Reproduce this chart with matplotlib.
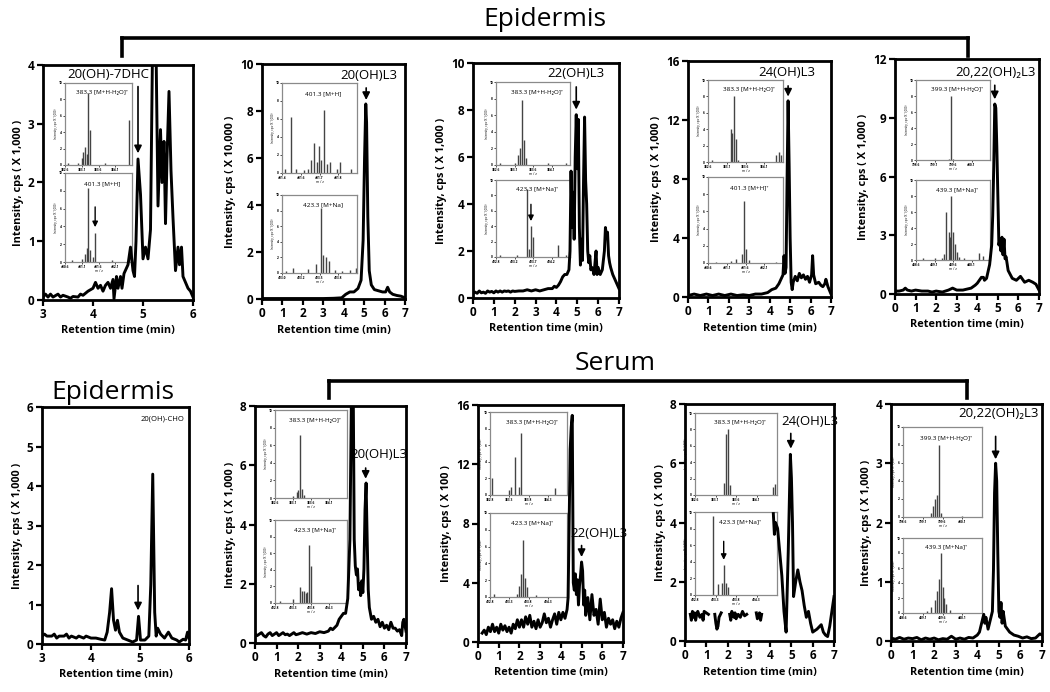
import numpy as np
import matplotlib.pyplot as plt
from matplotlib.lines import Line2D

plt.rcParams.update({
    "font.family": ["Open Sans", "DejaVu Sans"],
    "font.weight": "bold",
    "axes.linewidth": 2.0,
    "xtick.major.width": 1.6,
    "ytick.major.width": 1.6,
    "xtick.major.size": 4,
    "ytick.major.size": 4,
})

# ------------------------------------------------------------
# chromatograms: (retention time [min], intensity)
# ------------------------------------------------------------
epi_7dhc = [(3.0, 0.05), (3.05, 0.1), (3.1, 0.05), (3.15, 0.1), (3.2, 0.05), (3.3, 0.1), (3.35, 0.05),
            (3.4, 0.08), (3.5, 0.05), (3.55, 0.03), (3.6, 0.06), (3.7, 0.05), (3.75, 0.1), (3.8, 0.08),
            (3.9, 0.15), (4.0, 0.2), (4.05, 0.3), (4.1, 0.2), (4.15, 0.25), (4.2, 0.15), (4.25, 0.25),
            (4.3, 0.3), (4.35, 0.2), (4.4, 0.35), (4.42, 0.02), (4.47, 0.4), (4.5, 0.2), (4.55, 0.4),
            (4.58, 0.2), (4.62, 0.45), (4.7, 0.6), (4.75, 0.9), (4.8, 0.5), (4.83, 0.4), (4.86, 1.0),
            (4.9, 2.4), (4.95, 1.8), (5.0, 0.7), (5.05, 0.9), (5.1, 0.7), (5.15, 1.2), (5.2, 5.0),
            (5.25, 5.0), (5.3, 1.6), (5.35, 2.9), (5.38, 2.0), (5.42, 2.7), (5.45, 1.3), (5.48, 2.4),
            (5.52, 3.55), (5.56, 2.2), (5.6, 1.4), (5.65, 0.5), (5.7, 0.9), (5.73, 0.6), (5.77, 0.9),
            (5.8, 0.4), (5.85, 0.3), (5.9, 0.2), (5.95, 0.15), (6.0, 0.05)]

epi_20oh = [(0.0, 0.02), (0.5, 0.02), (1.0, 0.02), (1.5, 0.02), (2.0, 0.02), (2.5, 0.02), (3.0, 0.02),
            (3.5, 0.03), (3.9, 0.05), (4.1, 0.2), (4.3, 0.3), (4.5, 0.3), (4.7, 0.45), (4.85, 0.8),
            (4.95, 2.5), (5.02, 6.0), (5.08, 8.3), (5.12, 7.5), (5.18, 3.5), (5.25, 1.2), (5.35, 0.6),
            (5.5, 0.4), (5.7, 0.35), (5.9, 0.3), (6.05, 0.3), (6.15, 0.5), (6.25, 0.3), (6.4, 0.2),
            (6.6, 0.15), (6.8, 0.12), (7.0, 0.05)]

epi_22oh = [(0.0, 0.2), (0.1, 0.25), (0.2, 0.2), (0.3, 0.3), (0.4, 0.22), (0.5, 0.25), (0.6, 0.2),
            (0.7, 0.3), (0.8, 0.25), (0.9, 0.28), (1.0, 0.22), (1.1, 0.3), (1.2, 0.25), (1.3, 0.3),
            (1.4, 0.25), (1.5, 0.3), (1.6, 0.28), (1.7, 0.3), (1.8, 0.25), (1.9, 0.3), (2.0, 0.28),
            (2.2, 0.3), (2.4, 0.3), (2.6, 0.35), (2.8, 0.3), (3.0, 0.35), (3.2, 0.3), (3.4, 0.35),
            (3.6, 0.4), (3.8, 0.4), (3.9, 0.5), (4.0, 0.45), (4.1, 0.55), (4.2, 0.7), (4.3, 0.9),
            (4.4, 1.0), (4.5, 1.0), (4.6, 1.2), (4.65, 2.0), (4.7, 5.4), (4.75, 3.0), (4.8, 4.5),
            (4.85, 2.5), (4.9, 6.0), (4.95, 7.8), (5.0, 5.5), (5.05, 7.6), (5.1, 3.0), (5.15, 1.4),
            (5.2, 2.5), (5.25, 1.6), (5.3, 5.0), (5.35, 7.7), (5.4, 5.0), (5.45, 4.0), (5.5, 2.0),
            (5.55, 1.5), (5.6, 1.8), (5.65, 1.2), (5.7, 1.3), (5.75, 1.2), (5.8, 1.0), (5.85, 1.5),
            (5.9, 2.0), (5.95, 1.0), (6.0, 1.3), (6.1, 1.0), (6.2, 1.2), (6.3, 2.0), (6.35, 3.0),
            (6.4, 2.6), (6.45, 2.8), (6.5, 1.8), (6.55, 1.5), (6.6, 1.3), (6.7, 1.0), (6.8, 0.8),
            (6.9, 0.6), (7.0, 0.4)]

epi_24oh = [(0.0, 0.1), (0.3, 0.2), (0.6, 0.1), (0.9, 0.2), (1.2, 0.1), (1.5, 0.2), (1.8, 0.1),
            (2.1, 0.2), (2.4, 0.1), (2.7, 0.15), (3.0, 0.1), (3.3, 0.2), (3.6, 0.2), (3.9, 0.3),
            (4.1, 0.5), (4.3, 0.6), (4.45, 0.9), (4.55, 1.2), (4.65, 1.5), (4.7, 2.8), (4.75, 1.6),
            (4.8, 2.0), (4.85, 8.0), (4.9, 13.3), (4.95, 9.0), (5.0, 4.0), (5.05, 1.0), (5.1, 0.5),
            (5.15, 1.0), (5.25, 1.4), (5.35, 1.1), (5.45, 1.6), (5.55, 1.3), (5.65, 1.5), (5.75, 1.2),
            (5.85, 1.4), (5.95, 1.0), (6.05, 1.5), (6.1, 2.8), (6.15, 1.5), (6.25, 0.9), (6.4, 1.0),
            (6.5, 0.8), (6.6, 0.7), (6.7, 0.9), (6.75, 1.2), (6.85, 0.7), (7.0, 0.2)]

epi_2022oh = [(0.0, 0.15), (0.2, 0.15), (0.4, 0.2), (0.5, 0.3), (0.6, 0.2), (0.8, 0.15), (1.0, 0.2),
              (1.3, 0.15), (1.6, 0.15), (1.8, 0.1), (2.0, 0.15), (2.3, 0.1), (2.6, 0.2), (2.8, 0.3),
              (3.0, 0.2), (3.3, 0.2), (3.5, 0.25), (3.7, 0.3), (3.9, 0.45), (4.0, 0.55), (4.1, 0.7),
              (4.2, 0.85), (4.3, 0.85), (4.35, 0.7), (4.45, 0.8), (4.6, 1.5), (4.7, 2.5), (4.75, 4.0),
              (4.8, 6.5), (4.85, 9.7), (4.9, 9.5), (4.95, 7.5), (5.0, 5.0), (5.05, 2.5), (5.1, 2.8),
              (5.15, 2.2), (5.2, 2.9), (5.25, 2.0), (5.3, 2.8), (5.35, 1.8), (5.4, 1.9), (5.5, 1.2),
              (5.6, 1.0), (5.7, 0.8), (5.9, 0.7), (6.1, 0.9), (6.3, 0.6), (6.5, 0.7), (6.7, 0.6),
              (6.85, 0.5), (7.0, 0.2)]

epi_cho = [(3.0, 0.2), (3.05, 0.25), (3.1, 0.2), (3.2, 0.2), (3.25, 0.25), (3.3, 0.15), (3.35, 0.2),
           (3.45, 0.2), (3.5, 0.25), (3.55, 0.15), (3.6, 0.2), (3.7, 0.15), (3.75, 0.2), (3.85, 0.15),
           (3.9, 0.2), (4.0, 0.15), (4.1, 0.15), (4.2, 0.12), (4.28, 0.1), (4.33, 0.3), (4.38, 0.8),
           (4.42, 1.4), (4.46, 0.6), (4.5, 0.35), (4.54, 0.6), (4.58, 0.3), (4.65, 0.15), (4.75, 0.1),
           (4.85, 0.05), (4.93, 0.1), (4.97, 0.7), (5.01, 0.1), (5.1, 0.1), (5.18, 0.2), (5.22, 1.5),
           (5.26, 4.3), (5.3, 0.8), (5.33, 0.2), (5.36, 0.4), (5.42, 0.25), (5.5, 0.15), (5.58, 0.3),
           (5.65, 0.15), (5.75, 0.1), (5.8, 0.05), (5.88, 0.12), (5.93, 0.1), (5.97, 0.3), (6.0, 0.15)]

ser_20oh = [(0.0, 0.3), (0.1, 0.25), (0.2, 0.3), (0.3, 0.35), (0.4, 0.25), (0.5, 0.2), (0.6, 0.3),
            (0.7, 0.35), (0.8, 0.25), (0.9, 0.3), (1.0, 0.35), (1.1, 0.25), (1.2, 0.3), (1.3, 0.35),
            (1.4, 0.28), (1.5, 0.3), (1.6, 0.25), (1.7, 0.3), (1.8, 0.35), (1.9, 0.28), (2.0, 0.3),
            (2.2, 0.35), (2.4, 0.3), (2.6, 0.35), (2.8, 0.32), (3.0, 0.38), (3.2, 0.35), (3.4, 0.4),
            (3.5, 0.5), (3.6, 0.45), (3.8, 0.6), (3.9, 0.8), (4.0, 0.9), (4.1, 1.0), (4.2, 1.0),
            (4.3, 1.5), (4.4, 3.5), (4.48, 9.0), (4.55, 9.0), (4.6, 3.5), (4.65, 2.6), (4.7, 2.3),
            (4.75, 2.5), (4.8, 1.8), (4.85, 2.0), (4.9, 1.6), (4.95, 2.1), (5.0, 1.7), (5.05, 2.5),
            (5.1, 4.5), (5.15, 5.4), (5.2, 3.5), (5.25, 1.8), (5.3, 1.2), (5.4, 0.8), (5.5, 0.9),
            (5.6, 0.7), (5.7, 0.8), (5.8, 0.55), (5.9, 0.7), (6.0, 0.5), (6.1, 0.6), (6.2, 0.45),
            (6.3, 0.7), (6.4, 0.5), (6.5, 0.5), (6.6, 0.4), (6.7, 0.45), (6.8, 0.25), (6.85, 0.7),
            (6.9, 0.8), (6.95, 0.6), (7.0, 0.4)]

ser_22oh = [(0.2, 0.6), (0.3, 0.8), (0.4, 0.5), (0.5, 1.0), (0.6, 0.7), (0.7, 1.2), (0.8, 0.7),
            (0.9, 1.0), (1.0, 0.6), (1.1, 1.2), (1.2, 0.8), (1.3, 1.1), (1.4, 0.7), (1.5, 1.0),
            (1.6, 0.6), (1.7, 1.2), (1.8, 0.9), (1.9, 1.5), (2.0, 1.0), (2.1, 1.5), (2.2, 1.0),
            (2.3, 1.7), (2.4, 1.2), (2.5, 1.8), (2.6, 1.0), (2.7, 1.4), (2.8, 0.9), (2.9, 1.5),
            (3.0, 1.0), (3.1, 1.3), (3.2, 1.9), (3.3, 1.3), (3.4, 1.6), (3.5, 1.0), (3.6, 1.5),
            (3.7, 1.9), (3.8, 1.2), (3.9, 2.0), (4.0, 1.5), (4.1, 2.0), (4.2, 1.6), (4.3, 2.2),
            (4.35, 3.0), (4.4, 8.0), (4.45, 13.0), (4.5, 14.5), (4.55, 15.3), (4.6, 4.0), (4.65, 3.5),
            (4.7, 4.6), (4.75, 3.2), (4.8, 4.2), (4.85, 2.5), (4.9, 3.8), (4.95, 4.5), (5.0, 5.4),
            (5.05, 4.8), (5.1, 2.5), (5.15, 3.5), (5.2, 1.8), (5.3, 3.0), (5.4, 1.5), (5.5, 3.2),
            (5.6, 1.8), (5.7, 2.2), (5.8, 1.2), (5.9, 2.9), (6.0, 1.5), (6.1, 2.0), (6.2, 1.0),
            (6.3, 1.6), (6.4, 1.2), (6.5, 1.5), (6.6, 0.9), (6.7, 1.4), (6.8, 1.0), (6.9, 1.6),
            (7.0, 2.0)]

# nan marks the gaps in the trace
ser_24oh = [(0.25, 0.9), (0.3, 0.7), (0.35, 1.0), (0.4, 0.8), (0.45, 0.95), (0.5, 0.7), (0.55, 0.9),
            (0.6, 1.0), (0.7, 0.8), (0.8, 0.9), (0.85, 0.7), (0.9, 1.0), (1.0, 0.95), (1.1, 0.9),
            (1.2, np.nan), (1.4, 0.9), (1.45, 0.6), (1.5, 0.4), (1.55, 0.5), (1.6, 0.8), (1.7, 0.95),
            (1.9, np.nan), (2.1, 0.9), (2.15, 0.7), (2.2, 1.0), (2.3, 0.8), (2.35, 0.95), (2.4, 0.75),
            (2.5, 0.9), (2.6, 0.8), (2.7, 1.0), (2.8, 0.85), (2.9, 0.9), (3.1, np.nan), (3.35, 0.95),
            (3.4, 0.75), (3.5, 0.95), (3.55, 0.7), (3.6, 0.9), (3.9, np.nan), (4.15, 4.3),
            (4.2, 3.6), (4.25, 4.0), (4.35, 3.8), (4.45, 3.0), (4.55, 2.2), (4.65, 1.0), (4.75, 0.3),
            (4.85, 3.0), (4.95, 6.3), (5.0, 5.5), (5.05, 4.0), (5.1, 1.5), (5.2, 2.0), (5.3, 2.4),
            (5.4, 2.0), (5.5, 1.7), (5.6, 1.2), (5.7, 0.8), (5.8, 1.0), (5.9, 0.6), (6.0, 0.3),
            (6.2, 0.4), (6.4, 0.55), (6.5, 0.3), (6.6, 0.2), (6.7, 0.15), (6.8, 0.5), (6.9, 1.0),
            (7.0, 1.5)]

ser_2022oh = [(0.0, 0.05), (0.2, 0.03), (0.4, 0.06), (0.6, 0.03), (0.8, 0.05), (1.0, 0.04), (1.2, 0.06),
              (1.4, 0.02), (1.6, 0.05), (1.8, 0.03), (2.0, 0.05), (2.2, 0.02), (2.4, 0.04), (2.6, 0.03),
              (2.8, 0.08), (3.0, 0.03), (3.2, 0.05), (3.4, 0.03), (3.6, 0.06), (3.8, 0.05), (4.0, 0.1),
              (4.1, 0.15), (4.2, 0.3), (4.3, 0.45), (4.35, 0.3), (4.4, 0.4), (4.5, 0.2), (4.6, 0.35),
              (4.7, 0.5), (4.75, 1.2), (4.8, 2.5), (4.85, 3.0), (4.9, 2.7), (4.95, 1.5), (5.0, 0.5),
              (5.05, 0.4), (5.1, 0.65), (5.15, 0.3), (5.2, 0.5), (5.3, 0.25), (5.4, 0.2), (5.5, 0.15),
              (5.7, 0.1), (5.9, 0.08), (6.1, 0.05), (6.3, 0.07), (6.5, 0.04), (6.7, 0.05), (6.9, 0.12),
              (7.0, 0.1)]

# ------------------------------------------------------------
# inset mass spectra: m/z and relative intensity
# ------------------------------------------------------------
ms_7dhc_a_mz = [382.7, 383.0, 383.1, 383.15, 383.2, 383.25, 383.3, 383.35, 383.8, 384.5]
ms_7dhc_a_i = [0.2, 0.3, 0.8, 1.6, 2.2, 1.4, 8.8, 4.3, 0.2, 5.5]
ms_7dhc_b_mz = [400.8, 401.1, 401.2, 401.25, 401.3, 401.35, 401.45, 401.5, 402.0, 402.5]
ms_7dhc_b_i = [0.2, 0.3, 0.9, 1.6, 8.3, 1.3, 0.6, 3.3, 0.2, 0.3]
ms_20oh_a_mz = [401.47, 401.51, 401.55, 401.6, 401.63, 401.65, 401.67, 401.69, 401.71, 401.72,
                401.74, 401.76, 401.78, 401.83, 401.85, 401.93]
ms_20oh_a_i = [0.4, 6.2, 0.4, 0.3, 0.5, 1.5, 3.3, 1.2, 3.0, 1.5, 7.0, 1.0, 1.2, 0.4, 1.2, 0.5]
ms_20oh_b_mz = [423.05, 423.15, 423.35, 423.45, 423.52, 423.55, 423.58, 423.62, 423.7, 423.8, 423.9, 423.98]
ms_20oh_b_i = [0.3, 0.6, 0.5, 1.2, 8.3, 2.3, 2.1, 1.5, 0.4, 0.3, 0.4, 0.6]
ms_22oh_a_mz = [382.7, 383.1, 383.2, 383.25, 383.3, 383.35, 383.4, 384.0, 384.5]
ms_22oh_a_i = [0.2, 0.3, 1.2, 2.0, 7.8, 3.0, 0.8, 0.2, 0.3]
ms_22oh_b_mz = [422.9, 423.3, 423.55, 423.6, 423.65, 423.7, 424.3, 424.5]
ms_22oh_b_i = [0.2, 0.3, 8.8, 1.0, 4.0, 2.6, 1.5, 0.2]
ms_24oh_a_mz = [382.7, 383.2, 383.25, 383.3, 383.35, 383.4, 384.4, 384.5, 384.55]
ms_24oh_a_i = [0.2, 4.0, 3.5, 8.0, 2.8, 0.3, 0.8, 1.2, 0.9]
ms_24oh_b_mz = [400.8, 401.2, 401.35, 401.5, 401.55, 401.6, 401.7, 402.4]
ms_24oh_b_i = [0.1, 0.2, 0.5, 1.0, 7.2, 1.6, 0.3, 0.1]
ms_2022_a_mz = [398.8, 399.5, 399.55, 399.6, 400.2]
ms_2022_a_i = [0.05, 0.15, 8.0, 0.15, 0.05]
ms_2022_b_mz = [438.8, 439.1, 439.3, 439.35, 439.42, 439.48, 439.52, 439.55, 439.6, 439.65, 439.7,
                439.75, 439.9, 440.3, 440.4]
ms_2022_b_i = [0.2, 0.3, 0.3, 0.8, 6.0, 3.5, 2.9, 8.0, 3.5, 2.0, 1.0, 0.4, 0.3, 0.9, 0.5]
ms_s20_a_mz = [383.1, 383.2, 383.25, 383.3, 383.35, 383.4]
ms_s20_a_i = [0.2, 0.7, 0.9, 7.2, 1.0, 0.3]
ms_s20_b_mz = [422.95, 423.3, 423.5, 423.55, 423.6, 423.65, 423.7, 423.75, 423.8]
ms_s20_b_i = [0.2, 0.5, 1.9, 1.5, 1.4, 1.2, 1.3, 7.0, 4.4]
ms_s22_a_mz = [382.85, 383.3, 383.35, 383.45, 383.55, 383.6, 384.5]
ms_s22_a_i = [2.0, 0.6, 1.0, 4.6, 1.0, 7.5, 0.8]
ms_s22_b_mz = [422.9, 423.5, 423.55, 423.6, 423.65, 423.7, 423.75, 424.0]
ms_s22_b_i = [0.3, 0.4, 1.3, 2.7, 6.8, 2.3, 1.2, 0.2]
ms_s24_a_mz = [383.3, 383.35, 383.4, 383.45, 384.5, 384.55]
ms_s24_a_i = [1.5, 7.5, 8.0, 1.2, 1.0, 1.4]
ms_s24_b_mz = [423.25, 423.35, 423.45, 423.5, 423.55, 423.6]
ms_s24_b_i = [9.5, 1.3, 1.5, 3.6, 1.5, 1.0]
ms_s2022_a_mz = [399.3, 399.35, 399.4, 399.45, 399.5, 399.55, 400.1]
ms_s2022_a_i = [0.5, 1.2, 2.0, 2.5, 8.0, 0.5, 0.1]
ms_s2022_b_mz = [439.2, 439.3, 439.4, 439.45, 439.5, 439.55, 439.6, 439.65, 439.7, 439.8]
ms_s2022_b_i = [0.3, 0.8, 1.8, 3.0, 4.5, 8.0, 3.5, 2.0, 1.2, 0.4]

# ------------------------------------------------------------
# layout helpers (pixel boxes of the 1050 x 692 canvas)
# ------------------------------------------------------------
W, H = 1050, 692
fig = plt.figure(figsize=(W / 100, H / 100), dpi=100)


def box(x0, y0, x1, y1):
    return [x0 / W, 1 - y1 / H, (x1 - x0) / W, (y1 - y0) / H]


def chrom(b, data, xlim, ymax, ystep, scale):
    ax = fig.add_axes(box(*b))
    # main axes sit above the insets, with a see-through background
    ax.set_zorder(2)
    ax.patch.set_visible(False)
    t, v = np.array(data).T
    ax.plot(t, v, color="black", lw=2.1)
    ax.set_xlim(*xlim)
    ax.set_ylim(0, ymax)
    ax.set_xticks(np.arange(xlim[0], xlim[1] + 1))
    ax.set_yticks(np.arange(0, ymax + 0.1, ystep))
    ax.tick_params(labelsize=8.5, pad=2)
    ax.set_xlabel("Retention time (min)", fontsize=7.8, fontweight="bold", labelpad=3)
    ax.set_ylabel(f"Intensity, cps ( X {scale} )", fontsize=7.8, fontweight="bold", labelpad=3)
    return ax


def spectrum(b, mz, inten, xlim, label, arrow_mz=None):
    ax = fig.add_axes(box(*b))
    ax.set_zorder(1)
    ax.vlines(mz, 0, inten, color="#444444", lw=1.0)
    ax.set_xlim(*xlim)
    ax.set_ylim(0, 10)
    step = (xlim[1] - xlim[0]) / 4
    ax.set_xticks([xlim[0] + step * k for k in range(4)])
    ax.xaxis.set_major_formatter(plt.FormatStrFormatter("%.1f"))
    ax.set_yticks(range(0, 11, 2))
    ax.tick_params(labelsize=2.3, length=1.2, width=0.5, pad=0.8)
    for s in ax.spines.values():
        s.set_color("#8a8a8a")
        s.set_linewidth(0.9)
    ax.set_xlabel("m / z", fontsize=2.5, labelpad=0.5)
    ax.set_ylabel("Intensity, cps (X 1,000)", fontsize=2.2, labelpad=0.5)
    ax.text(0.55, 0.86, label, transform=ax.transAxes, fontsize=4.6, ha="center",
            fontweight="normal")
    if arrow_mz is not None:
        top = inten[list(mz).index(arrow_mz)]
        ax.annotate("", xy=(arrow_mz, top + 0.3), xytext=(arrow_mz, top + 3.2),
                    arrowprops=dict(arrowstyle="-|>", color="black", lw=1.0, mutation_scale=8))
    return ax


def tag(ax, x, y, text, size=9.5):
    ax.text(x, y, text, fontsize=size, fontweight="normal", ha="center", va="center")


def arrow(ax, x, y0, y1):
    ax.annotate("", xy=(x, y1), xytext=(x, y0),
                arrowprops=dict(arrowstyle="-|>", color="black", lw=1.2, mutation_scale=11))


# ---------------- top row: epidermis ----------------
ax = chrom((43, 65, 193, 300), epi_7dhc, (3, 6), 4, 1, "1,000")
tag(ax, 4.3, 3.83, "20(OH)-7DHC")
arrow(ax, 4.9, 3.68, 2.45)
spectrum((65, 83, 132, 165), ms_7dhc_a_mz, ms_7dhc_a_i, (382.6, 384.6), "383.3 [M+H-H₂O]⁺")
spectrum((65, 173, 132, 262), ms_7dhc_b_mz, ms_7dhc_b_i, (400.6, 402.6), "401.3 [M+H]", arrow_mz=401.5)

ax = chrom((262, 64, 405, 299), epi_20oh, (0, 7), 10, 2, "10,000")
tag(ax, 5.25, 9.5, "20(OH)L3")
arrow(ax, 5.1, 9.1, 8.35)
spectrum((282, 83, 357, 173), ms_20oh_a_mz, ms_20oh_a_i, (401.45, 401.97), "401.3 [M+H]")
spectrum((282, 195, 357, 273), ms_20oh_b_mz, ms_20oh_b_i, (423.0, 424.0), "423.3 [M+Na]")

ax = chrom((473, 63, 619, 298), epi_22oh, (0, 7), 10, 2, "1,000")
tag(ax, 4.95, 9.55, "22(OH)L3")
arrow(ax, 4.95, 9.1, 7.9)
spectrum((496, 82, 570, 165), ms_22oh_a_mz, ms_22oh_a_i, (382.6, 384.6), "383.3 [M+H-H₂O]⁺")
spectrum((496, 180, 570, 257), ms_22oh_b_mz, ms_22oh_b_i, (422.8, 424.6), "423.3 [M+Na]⁺", arrow_mz=423.65)

ax = chrom((688, 61, 831, 297), epi_24oh, (0, 7), 16, 4, "1,000")
tag(ax, 4.85, 15.2, "24(OH)L3")
arrow(ax, 4.9, 14.5, 13.4)
spectrum((708, 80, 783, 162), ms_24oh_a_mz, ms_24oh_a_i, (382.6, 384.6), "383.3 [M+H-H₂O]⁺")
spectrum((708, 177, 783, 263), ms_24oh_b_mz, ms_24oh_b_i, (400.6, 402.6), "401.3 [M+H]⁺")

ax = chrom((895, 59, 1039, 294), epi_2022oh, (0, 7), 12, 3, "1,000")
tag(ax, 4.9, 11.3, "20,22(OH)₂L3")
arrow(ax, 4.85, 10.8, 9.8)
spectrum((916, 80, 990, 160), ms_2022_a_mz, ms_2022_a_i, (398.6, 400.6), "399.3 [M+H-H₂O]⁺")
spectrum((916, 180, 990, 260), ms_2022_b_mz, ms_2022_b_i, (438.6, 440.6), "439.3 [M+Na]⁺")

# ---------------- bottom row ----------------
ax = chrom((42, 407, 189, 644), epi_cho, (3, 6), 6, 1, "1,000")
tag(ax, 5.45, 5.7, "20(OH)-CHO", size=5.5)
arrow(ax, 4.96, 1.55, 0.78)

ax = chrom((255, 406, 406, 643), ser_20oh, (0, 7), 8, 2, "1,000")
tag(ax, 5.75, 6.35, "20(OH)L3")
arrow(ax, 5.13, 6.0, 5.45)
spectrum((275, 410, 347, 498), ms_s20_a_mz, ms_s20_a_i, (382.6, 384.6), "383.3 [M+H-H₂O]⁺")
spectrum((275, 520, 347, 603), ms_s20_b_mz, ms_s20_b_i, (422.8, 424.8), "423.3 [M+Na]⁺")

ax = chrom((478, 405, 623, 642), ser_22oh, (0, 7), 16, 4, "100")
tag(ax, 5.85, 7.3, "22(OH)L3")
arrow(ax, 5.0, 6.7, 5.55)
spectrum((490, 412, 567, 495), ms_s22_a_mz, ms_s22_a_i, (382.8, 384.8), "383.3 [M+H-H₂O]⁺")
spectrum((490, 513, 567, 597), ms_s22_b_mz, ms_s22_b_i, (422.8, 424.8), "423.3 [M+Na]⁺")

ax = chrom((685, 404, 834, 641), ser_24oh, (0, 7), 8, 2, "100")
tag(ax, 5.85, 7.4, "24(OH)L3")
arrow(ax, 4.97, 7.1, 6.4)
spectrum((695, 413, 777, 495), ms_s24_a_mz, ms_s24_a_i, (382.6, 384.6), "383.3 [M+H-H₂O]⁺")
spectrum((695, 512, 777, 595), ms_s24_b_mz, ms_s24_b_i, (422.8, 424.8), "423.3 [M+Na]⁺", arrow_mz=423.5)

ax = chrom((891, 404, 1042, 641), ser_2022oh, (0, 7), 4, 1, "1,000")
tag(ax, 5.0, 3.84, "20,22(OH)₂L3")
arrow(ax, 4.85, 3.5, 3.02)
spectrum((903, 427, 982, 517), ms_s2022_a_mz, ms_s2022_a_i, (398.6, 400.6), "399.3 [M+H-H₂O]⁺")
spectrum((903, 538, 982, 613), ms_s2022_b_mz, ms_s2022_b_i, (438.6, 440.6), "439.3 [M+Na]⁺")

# ---------------- group headings and brackets ----------------
def bracket(x0, x1, y, y_end):
    kw = dict(color="black", lw=2.6, transform=fig.transFigure)
    fig.add_artist(Line2D([x0 / W, x1 / W], [1 - y / H, 1 - y / H], **kw))
    fig.add_artist(Line2D([x0 / W, x0 / W], [1 - y / H, 1 - y_end / H], **kw))
    fig.add_artist(Line2D([x1 / W, x1 / W], [1 - y / H, 1 - y_end / H], **kw))


bracket(122, 968, 38, 56)
fig.text(545 / W, 1 - 19 / H, "Epidermis", fontsize=19, fontweight="normal", ha="center", va="center")
bracket(329, 967, 381, 398)
fig.text(615 / W, 1 - 364 / H, "Serum", fontsize=19, fontweight="normal", ha="center", va="center")
fig.text(113 / W, 1 - 392 / H, "Epidermis", fontsize=19, fontweight="normal", ha="center", va="center")

fig.savefig("out.png", dpi=100)
